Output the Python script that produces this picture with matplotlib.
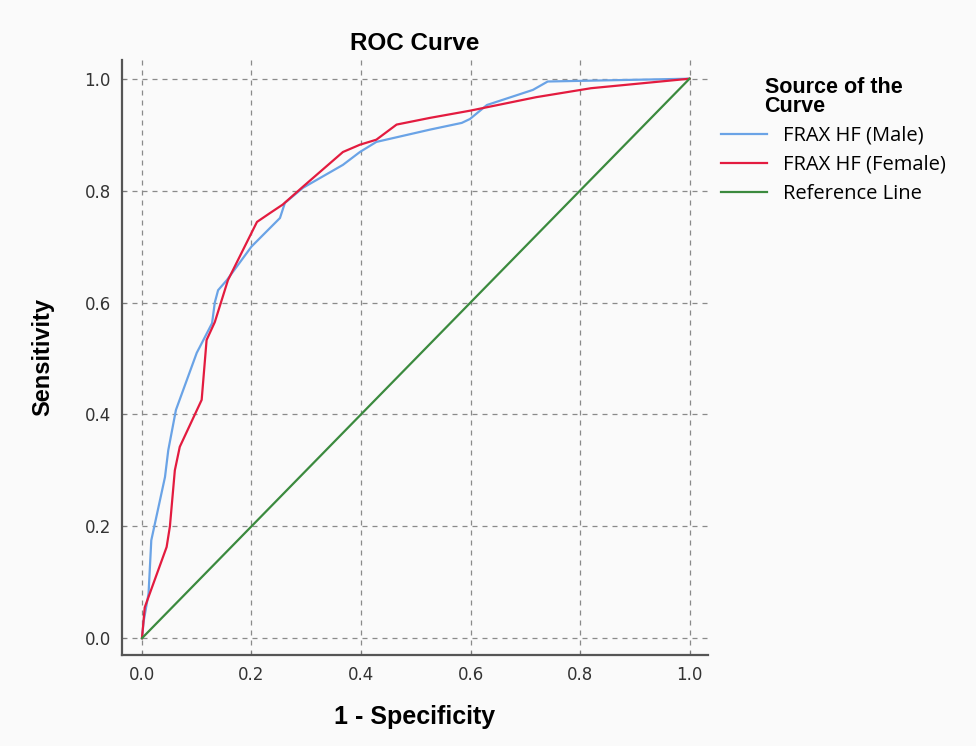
import matplotlib
matplotlib.use('Agg')
import matplotlib.pyplot as plt

# ROC points (1 - specificity, sensitivity)
male_fpr = [0.0, 0.003, 0.012, 0.017, 0.042, 0.048, 0.062, 0.10, 0.128, 0.133, 0.139, 0.155,
            0.20, 0.252, 0.261, 0.294, 0.367, 0.398, 0.428, 0.526, 0.584, 0.599, 0.63,
            0.714, 0.741, 1.0]
male_tpr = [0.0, 0.03, 0.08, 0.175, 0.288, 0.336, 0.408, 0.51, 0.563, 0.60, 0.622, 0.64,
            0.70, 0.751, 0.778, 0.805, 0.846, 0.869, 0.887, 0.909, 0.921, 0.928, 0.953,
            0.98, 0.995, 1.0]

female_fpr = [0.0, 0.005, 0.045, 0.051, 0.06, 0.069, 0.109, 0.118, 0.133, 0.157, 0.21,
              0.234, 0.257, 0.294, 0.367, 0.398, 0.428, 0.465, 0.526, 0.6, 0.72, 0.82, 1.0]
female_tpr = [0.0, 0.055, 0.163, 0.20, 0.30, 0.342, 0.426, 0.533, 0.565, 0.64, 0.744,
              0.76, 0.775, 0.807, 0.869, 0.882, 0.891, 0.918, 0.93, 0.943, 0.967, 0.983, 1.0]

ref_line = [0.0, 1.0]
ticks = [0.0, 0.2, 0.4, 0.6, 0.8, 1.0]
labels = ['FRAX HF (Male)', 'FRAX HF (Female)', 'Reference Line']

bg = '#fafafa'
fig = plt.figure(figsize=(9.76, 7.46), dpi=100, facecolor=bg)
ax = fig.add_axes([0.125, 0.122, 0.6, 0.798], facecolor=bg)

l1, = ax.plot(male_fpr, male_tpr, color='#6aa3e6', lw=1.6)
l2, = ax.plot(female_fpr, female_tpr, color='#e31b3f', lw=1.6)
l3, = ax.plot(ref_line, ref_line, color='#3b8a3e', lw=1.6)

ax.set_xlim(-0.0365, 1.033)
ax.set_ylim(-0.030, 1.034)
ax.set_xticks(ticks)
ax.set_yticks(ticks)
ax.set_xticklabels([f'{t:.1f}' for t in ticks])
ax.set_yticklabels([f'{t:.1f}' for t in ticks])
ax.grid(True, color='#8a8a8a', linestyle=(0, (4, 4)), lw=0.9)
ax.set_axisbelow(True)

for s in ['top', 'right']:
    ax.spines[s].set_visible(False)
for s in ['left', 'bottom']:
    ax.spines[s].set_color('#555555')
    ax.spines[s].set_linewidth(1.6)
ax.tick_params(direction='in', length=3, color='#777777', labelsize=12,
               labelcolor='#333333', pad=8)
for lab in ax.get_xticklabels() + ax.get_yticklabels():
    lab.set_family('DejaVu Sans')

ax.set_title('ROC Curve', fontsize=17.5, fontweight='bold', family='Liberation Sans', pad=7)
ax.set_xlabel('1 - Specificity', fontsize=18, fontweight='bold', family='Liberation Sans',
              labelpad=15)
ax.set_ylabel('Sensitivity', fontsize=17, fontweight='bold', family='Liberation Sans',
              labelpad=22)

leg = fig.legend([l1, l2, l3], labels, title='Source of the\nCurve', loc='upper left',
                 bbox_to_anchor=(0.72, 0.921), frameon=False, handlelength=2.3,
                 prop={'family': 'Open Sans', 'size': 14.5},
                 title_fontproperties={'family': 'Liberation Sans', 'weight': 'bold', 'size': 15.5},
                 labelspacing=0.45, handletextpad=0.8)
leg.get_title().set_linespacing(0.85)

fig.savefig('out.png', dpi=100, facecolor=bg)
